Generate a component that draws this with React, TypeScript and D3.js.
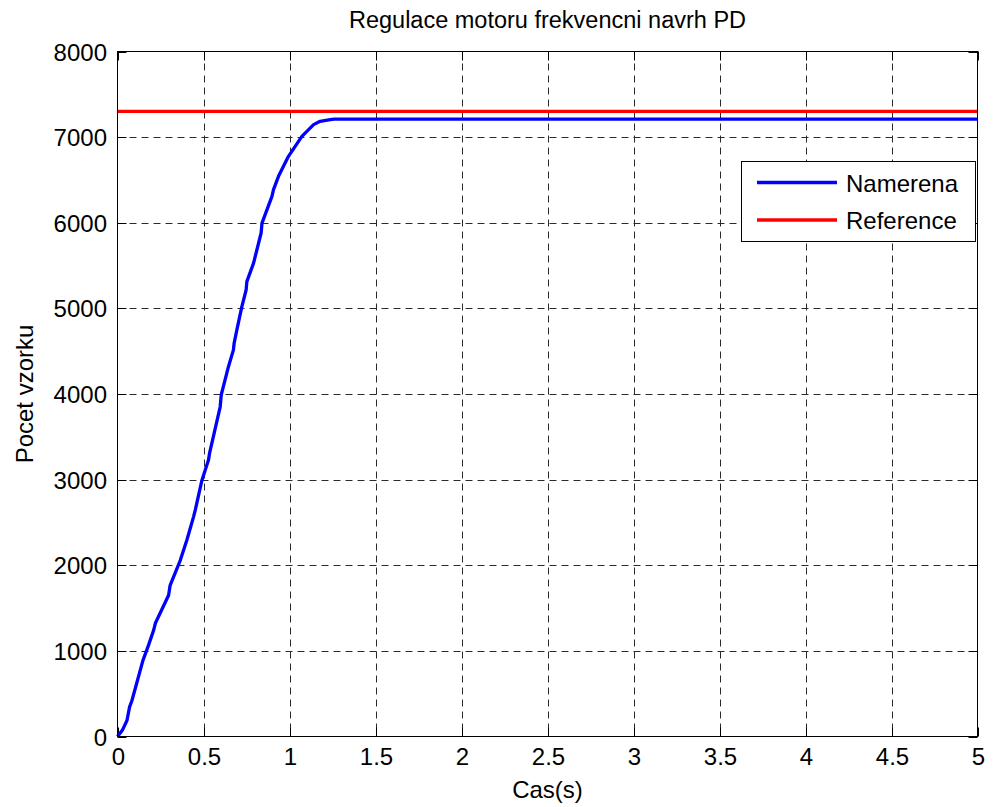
import React from "react";
import * as d3 from "d3";

const timeS = [0, 0.03, 0.055, 0.07, 0.084, 0.148, 0.18, 0.21, 0.22, 0.297, 0.306, 0.365, 0.403, 0.442, 0.452, 0.491, 0.529, 0.535, 0.597, 0.603, 0.645, 0.674, 0.678, 0.694, 0.723, 0.748, 0.752, 0.791, 0.835, 0.84, 0.898, 0.907, 0.936, 0.994, 1.072, 1.14, 1.178, 1.237, 1.26, 5];
const measured = [0, 80, 187, 343, 421, 889, 1064, 1240, 1322, 1649, 1766, 2058, 2292, 2565, 2643, 2994, 3228, 3306, 3851, 3988, 4319, 4515, 4593, 4749, 5021, 5216, 5313, 5529, 5880, 5996, 6308, 6386, 6542, 6776, 7009, 7146, 7185, 7205, 7210, 7210];
const referenceTime = [0, 5];
const referenceValue = [7300, 7300];
const xTicks = [0, 0.5, 1, 1.5, 2, 2.5, 3, 3.5, 4, 4.5, 5];
const yTicks = [0, 1000, 2000, 3000, 4000, 5000, 6000, 7000, 8000];
const title = "Regulace motoru frekvencni navrh PD";
const xLabel = "Cas(s)";
const yLabel = "Pocet vzorku";
const legendLabels = ["Namerena", "Reference"];

const W = 995, H = 807;
const L = 117.5, R = 977.5, T = 51.5, B = 736.5;
const FONT = "Arial, 'Liberation Sans', Helvetica, sans-serif";

export default function App() {
  const x = d3.scaleLinear().domain([0, 5]).range([L, R]);
  const y = d3.scaleLinear().domain([0, 8000]).range([B, T]);
  const line = d3.line<[number, number]>().x(d => x(d[0])).y(d => y(d[1]));
  const meas = line(timeS.map((t, i) => [t, measured[i]] as [number, number]));
  const ref = line(referenceTime.map((t, i) => [t, referenceValue[i]] as [number, number]));
  const tickLen = 9;
  const grid = "#2b2b2b";
  const lx = 741.5, ly = 161.5, lw = 234, lh = 80;
  return (
    <div style={{ position: "absolute", left: 0, top: 0 }}>
      <svg width={W} height={H} style={{ display: "block", background: "#fff" }} fontFamily={FONT}>
        <rect x={0} y={0} width={W} height={H} fill="#fff" />
        {xTicks.slice(1, -1).map(t => (
          <line key={"gx" + t} x1={Math.round(x(t)) + 0.5} x2={Math.round(x(t)) + 0.5} y1={T} y2={B} stroke={grid} strokeWidth={1} strokeDasharray="7,5" />
        ))}
        {yTicks.slice(1, -1).map(t => (
          <line key={"gy" + t} x1={L} x2={R} y1={Math.round(y(t)) + 0.5} y2={Math.round(y(t)) + 0.5} stroke={grid} strokeWidth={1} strokeDasharray="7,5" />
        ))}
        {xTicks.map(t => {
          const px = Math.round(x(t)) + 0.5;
          return (
            <g key={"tx" + t}>
              <line x1={px} x2={px} y1={B} y2={B - tickLen} stroke="#000" />
              <line x1={px} x2={px} y1={T} y2={T + tickLen} stroke="#000" />
              <text x={px} y={765} textAnchor="middle" fontSize={24} fill="#000">{String(t)}</text>
            </g>
          );
        })}
        {yTicks.map(t => {
          const py = Math.round(y(t)) + 0.5;
          return (
            <g key={"ty" + t}>
              <line x1={L} x2={L + tickLen} y1={py} y2={py} stroke="#000" />
              <line x1={R} x2={R - tickLen} y1={py} y2={py} stroke="#000" />
              <text x={107} y={py + 8.5} textAnchor="end" fontSize={24} fill="#000">{String(t)}</text>
            </g>
          );
        })}
        <path d={ref ?? ""} fill="none" stroke="#ff0000" strokeWidth={3.3} />
        <path d={meas ?? ""} fill="none" stroke="#0000ff" strokeWidth={3.3} strokeLinejoin="round" />
        <rect x={L} y={T} width={R - L} height={B - T} fill="none" stroke="#000" strokeWidth={1} />
        <rect x={lx} y={ly} width={lw} height={lh} fill="#fff" stroke="#000" strokeWidth={1} />
        <line x1={757} x2={837} y1={182.5} y2={182.5} stroke="#0000ff" strokeWidth={3.3} />
        <line x1={757} x2={837} y1={220} y2={220} stroke="#ff0000" strokeWidth={3.3} />
        <text x={846} y={191.5} fontSize={24} fill="#000">{legendLabels[0]}</text>
        <text x={846} y={229} fontSize={24} fill="#000">{legendLabels[1]}</text>
        <text x={(L + R) / 2} y={28} textAnchor="middle" fontSize={23.5} fill="#000">{title}</text>
        <text x={(L + R) / 2} y={798} textAnchor="middle" fontSize={24} fill="#000">{xLabel}</text>
        <text transform={`translate(33,${(T + B) / 2}) rotate(-90)`} textAnchor="middle" fontSize={24} fill="#000">{yLabel}</text>
      </svg>
    </div>
  );
}
